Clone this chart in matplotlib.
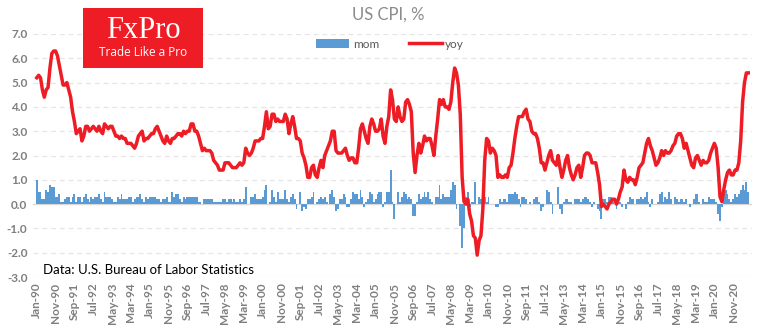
import matplotlib.pyplot as plt
import numpy as np
import pandas as pd
from matplotlib.patches import Rectangle
from matplotlib.lines import Line2D
from matplotlib.patches import Patch

# US CPI, monthly, Jan-1990 .. Jul-2021
yoy_by_year = {
    1990: [5.2, 5.3, 5.2, 4.7, 4.4, 4.7, 4.8, 5.6, 6.2, 6.3, 6.3, 6.1],
    1991: [5.7, 5.3, 4.9, 4.9, 5.0, 4.7, 4.4, 3.8, 3.4, 2.9, 3.0, 3.1],
    1992: [2.6, 2.8, 3.2, 3.2, 3.0, 3.1, 3.2, 3.1, 3.0, 3.2, 3.0, 2.9],
    1993: [3.3, 3.2, 3.1, 3.2, 3.2, 3.0, 2.8, 2.8, 2.7, 2.8, 2.7, 2.7],
    1994: [2.5, 2.5, 2.5, 2.4, 2.3, 2.5, 2.8, 2.9, 3.0, 2.6, 2.7, 2.7],
    1995: [2.8, 2.9, 2.9, 3.1, 3.2, 3.0, 2.8, 2.6, 2.5, 2.8, 2.6, 2.5],
    1996: [2.7, 2.7, 2.8, 2.9, 2.9, 2.8, 3.0, 2.9, 3.0, 3.0, 3.3, 3.3],
    1997: [3.0, 3.0, 2.8, 2.5, 2.2, 2.3, 2.2, 2.2, 2.2, 2.1, 1.8, 1.7],
    1998: [1.6, 1.4, 1.4, 1.4, 1.7, 1.7, 1.7, 1.6, 1.5, 1.5, 1.5, 1.6],
    1999: [1.7, 1.6, 1.7, 2.3, 2.1, 2.0, 2.1, 2.3, 2.6, 2.6, 2.6, 2.7],
    2000: [2.7, 3.2, 3.8, 3.1, 3.2, 3.7, 3.7, 3.4, 3.5, 3.4, 3.4, 3.4],
    2001: [3.7, 3.5, 2.9, 3.3, 3.6, 3.2, 2.7, 2.7, 2.6, 2.1, 1.9, 1.6],
    2002: [1.1, 1.1, 1.5, 1.6, 1.2, 1.1, 1.5, 1.8, 1.5, 2.0, 2.2, 2.4],
    2003: [2.6, 3.0, 3.0, 2.2, 2.1, 2.1, 2.1, 2.2, 2.3, 2.0, 1.8, 1.9],
    2004: [1.9, 1.7, 1.7, 2.3, 3.1, 3.3, 3.0, 2.7, 2.5, 3.2, 3.5, 3.3],
    2005: [3.0, 3.0, 3.1, 3.5, 2.8, 2.5, 3.2, 3.6, 4.7, 4.3, 3.5, 3.4],
    2006: [4.0, 3.6, 3.4, 3.5, 4.2, 4.3, 4.1, 3.8, 2.1, 1.3, 2.0, 2.5],
    2007: [2.1, 2.4, 2.8, 2.6, 2.7, 2.7, 2.4, 2.0, 2.8, 3.5, 4.3, 4.1],
    2008: [4.3, 4.0, 4.0, 3.9, 4.2, 5.0, 5.6, 5.4, 4.9, 3.7, 1.1, 0.1],
    2009: [0.0, 0.2, -0.4, -0.7, -1.3, -1.4, -2.1, -1.5, -1.3, -0.2, 1.8, 2.7],
    2010: [2.6, 2.1, 2.3, 2.2, 2.0, 1.1, 1.2, 1.1, 1.1, 1.2, 1.1, 1.5],
    2011: [1.6, 2.1, 2.7, 3.2, 3.6, 3.6, 3.6, 3.8, 3.9, 3.5, 3.4, 3.0],
    2012: [2.9, 2.9, 2.7, 2.3, 1.7, 1.7, 1.4, 1.7, 2.0, 2.2, 1.8, 1.7],
    2013: [1.6, 2.0, 1.5, 1.1, 1.4, 1.8, 2.0, 1.5, 1.2, 1.0, 1.2, 1.5],
    2014: [1.6, 1.1, 1.5, 2.0, 2.1, 2.1, 2.0, 1.7, 1.7, 1.7, 1.3, 0.8],
    2015: [-0.1, 0.0, -0.1, -0.2, 0.0, 0.1, 0.2, 0.2, 0.0, 0.2, 0.5, 0.7],
    2016: [1.4, 1.0, 0.9, 1.1, 1.0, 1.0, 0.8, 1.1, 1.5, 1.6, 1.7, 2.1],
    2017: [2.5, 2.7, 2.4, 2.2, 1.9, 1.6, 1.7, 1.9, 2.2, 2.0, 2.2, 2.1],
    2018: [2.1, 2.2, 2.4, 2.5, 2.8, 2.9, 2.9, 2.7, 2.3, 2.5, 2.2, 1.9],
    2019: [1.6, 1.5, 1.9, 2.0, 1.8, 1.6, 1.8, 1.7, 1.7, 1.8, 2.1, 2.3],
    2020: [2.5, 2.3, 1.5, 0.3, 0.1, 0.6, 1.0, 1.3, 1.4, 1.2, 1.2, 1.4],
    2021: [1.4, 1.7, 2.6, 4.2, 5.0, 5.4, 5.4],
}

mom_by_year = {
    1990: [1.0, 0.5, 0.5, 0.2, 0.2, 0.6, 0.5, 0.8, 0.7, 0.7, 0.3, 0.3],
    1991: [0.4, 0.1, 0.1, 0.2, 0.3, 0.3, 0.1, 0.3, 0.4, 0.1, 0.3, 0.3],
    1992: [0.1, 0.3, 0.4, 0.2, 0.1, 0.3, 0.2, 0.3, 0.3, 0.4, 0.2, 0.1],
    1993: [0.5, 0.3, 0.3, 0.3, 0.2, 0.1, 0.1, 0.3, 0.2, 0.4, 0.2, 0.2],
    1994: [0.2, 0.3, 0.3, 0.1, 0.2, 0.3, 0.3, 0.4, 0.2, 0.1, 0.3, 0.2],
    1995: [0.3, 0.3, 0.3, 0.3, 0.2, 0.2, 0.1, 0.2, 0.2, 0.3, 0.1, 0.1],
    1996: [0.5, 0.3, 0.4, 0.4, 0.2, 0.1, 0.3, 0.2, 0.3, 0.3, 0.3, 0.3],
    1997: [0.3, 0.3, 0.1, 0.1, 0.0, 0.2, 0.2, 0.2, 0.2, 0.2, 0.1, 0.1],
    1998: [0.1, 0.1, 0.1, 0.2, 0.2, 0.1, 0.2, 0.2, 0.1, 0.2, 0.1, 0.1],
    1999: [0.2, 0.1, 0.2, 0.7, 0.0, 0.0, 0.3, 0.3, 0.4, 0.2, 0.2, 0.2],
    2000: [0.3, 0.6, 0.8, 0.0, 0.1, 0.6, 0.3, 0.1, 0.5, 0.2, 0.2, 0.2],
    2001: [0.6, 0.2, 0.1, 0.3, 0.4, 0.2, -0.2, 0.0, 0.5, -0.3, -0.1, -0.2],
    2002: [0.2, 0.2, 0.3, 0.5, 0.0, 0.1, 0.2, 0.3, 0.2, 0.3, 0.1, 0.0],
    2003: [0.4, 0.6, 0.3, -0.3, -0.2, 0.2, 0.2, 0.4, 0.3, -0.1, -0.1, 0.2],
    2004: [0.5, 0.4, 0.4, 0.2, 0.6, 0.3, -0.1, 0.1, 0.2, 0.5, 0.4, 0.1],
    2005: [0.2, 0.4, 0.5, 0.5, -0.1, 0.1, 0.5, 0.5, 1.4, 0.1, -0.6, 0.0],
    2006: [0.5, 0.1, 0.3, 0.5, 0.4, 0.2, 0.3, 0.2, -0.5, -0.5, 0.1, 0.4],
    2007: [0.2, 0.3, 0.5, 0.3, 0.5, 0.2, 0.1, 0.0, 0.3, 0.3, 0.8, 0.2],
    2008: [0.4, 0.3, 0.3, 0.3, 0.6, 0.9, 0.8, -0.2, 0.0, -0.9, -1.8, -1.0],
    2009: [0.3, 0.5, -0.1, 0.1, 0.1, 0.9, 0.0, 0.3, 0.2, 0.3, 0.3, 0.1],
    2010: [0.3, 0.0, 0.0, 0.0, -0.1, -0.1, 0.2, 0.1, 0.2, 0.2, 0.1, 0.4],
    2011: [0.4, 0.4, 0.5, 0.4, 0.2, -0.1, 0.3, 0.3, 0.2, 0.0, 0.1, 0.0],
    2012: [0.2, 0.3, 0.3, 0.1, -0.3, -0.1, 0.0, 0.6, 0.5, 0.1, -0.4, 0.0],
    2013: [0.0, 0.7, -0.2, -0.4, 0.1, 0.2, 0.2, 0.1, 0.1, 0.0, 0.2, 0.2],
    2014: [0.2, 0.1, 0.2, 0.3, 0.3, 0.2, 0.1, -0.1, 0.1, 0.0, -0.2, -0.3],
    2015: [-0.6, 0.2, 0.2, 0.1, 0.3, 0.3, 0.1, 0.0, -0.2, 0.1, 0.1, -0.1],
    2016: [0.0, -0.2, 0.1, 0.3, 0.2, 0.2, 0.0, 0.2, 0.2, 0.3, 0.2, 0.3],
    2017: [0.5, 0.1, -0.1, 0.2, 0.0, 0.0, 0.1, 0.4, 0.5, 0.1, 0.3, 0.2],
    2018: [0.5, 0.2, 0.0, 0.3, 0.2, 0.1, 0.2, 0.2, 0.1, 0.2, 0.0, -0.1],
    2019: [0.0, 0.2, 0.4, 0.4, 0.1, 0.0, 0.2, 0.1, 0.1, 0.3, 0.2, 0.2],
    2020: [0.2, 0.1, -0.4, -0.7, -0.1, 0.6, 0.6, 0.4, 0.2, 0.1, 0.2, 0.4],
    2021: [0.3, 0.4, 0.6, 0.8, 0.6, 0.9, 0.5],
}

yoy = np.concatenate([yoy_by_year[y] for y in sorted(yoy_by_year)])
mom = np.concatenate([mom_by_year[y] for y in sorted(mom_by_year)])
dates = pd.date_range("1990-01-01", periods=len(yoy), freq="MS")
x = np.arange(len(yoy))

BLUE = "#5B9BD5"
RED = "#EE1C25"
GREY = "#7F7F7F"
GRID = "#E6E6E6"

plt.rcParams["font.family"] = ["Lato", "DejaVu Sans"]

fig = plt.figure(figsize=(7.7, 3.3), dpi=100)
ax = fig.add_axes([33 / 770, 53 / 330, 719 / 770, 243 / 330])

ax.bar(x, mom, width=1.0, color=BLUE, linewidth=0, zorder=2)
ax.plot(x, yoy, color=RED, lw=2.5, solid_joinstyle="round", zorder=3)

ax.set_ylim(-3, 7)
ax.set_xlim(-2, len(x) + 1)
ax.set_yticks(np.arange(-3, 8, 1))
ax.set_yticklabels([f"{v:.1f}" for v in np.arange(-3, 8, 1)])
for v in np.arange(-3, 8, 1):
    if v == 0:
        ax.axhline(0, color="#D9D9D9", lw=1.0, zorder=1)
    else:
        ax.axhline(v, color=GRID, lw=0.9, ls=(0, (4, 3)), zorder=1)

tick_idx = x[::10]
ax.set_xticks(tick_idx)
ax.set_xticklabels([dates[i].strftime("%b-%y") for i in tick_idx],
                   rotation=90, fontsize=8.5, fontweight="bold", color=GREY)
for lab in ax.get_yticklabels():
    lab.set_fontsize(8.5)
    lab.set_fontweight("bold")
    lab.set_color(GREY)
ax.tick_params(length=0, pad=4)
for s in ax.spines.values():
    s.set_visible(False)

# title and legend
fig.text(388 / 770, 1 - 15 / 330, "US CPI, %", ha="center", va="center",
         fontsize=12, color="#8C8C8C")
handles = [Patch(facecolor=BLUE, edgecolor="none"),
           Line2D([], [], color=RED, lw=2.5)]
fig.legend(handles, ["mom", "yoy"], loc="center", ncol=2,
           bbox_to_anchor=(390 / 770, 1 - 44 / 330), frameon=False,
           fontsize=8.5, labelcolor="#595959", handlelength=2.8,
           handleheight=0.8, columnspacing=2.5, handletextpad=0.3)

# FxPro badge
fig.patches.append(Rectangle((83 / 770, 1 - 68 / 330), 120 / 770, 60 / 330,
                             transform=fig.transFigure, facecolor="#EE1C25",
                             edgecolor="none", zorder=5))
fig.text(143 / 770, 1 - 30 / 330, "FxPro", ha="center", va="center",
         fontsize=22, color="white", family="Liberation Serif", zorder=6)
fig.text(143 / 770, 1 - 53 / 330, "Trade Like a Pro", ha="center",
         va="center", fontsize=8.5, color="white", family="Open Sans", zorder=6)

ax.text(43 / 770, 1 - 270 / 330, "Data: U.S. Bureau of Labor Statistics",
        transform=fig.transFigure, ha="left", va="center", fontsize=9.5,
        color="black", zorder=6,
        bbox=dict(facecolor="white", edgecolor="none", pad=1))

fig.savefig("out.png", dpi=100, facecolor="white")
